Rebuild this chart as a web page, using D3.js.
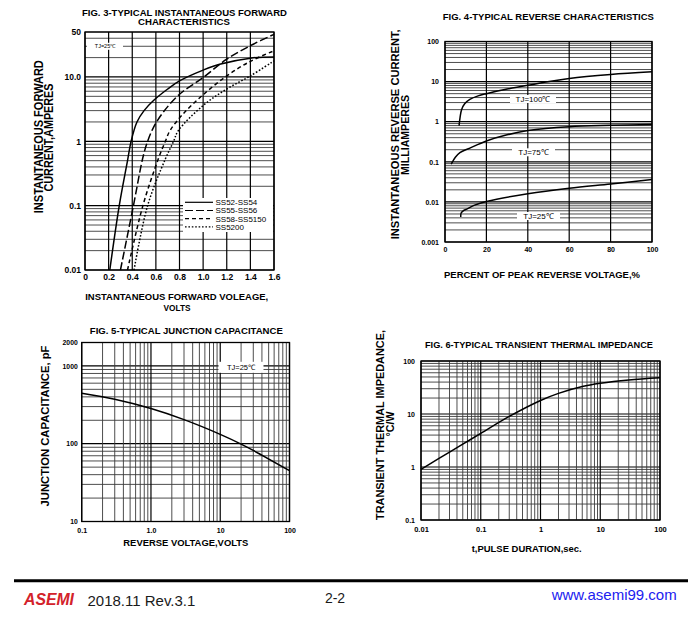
<!DOCTYPE html>
<html>
<head>
<meta charset="utf-8">
<script src="https://cdn.jsdelivr.net/npm/d3@7"></script>
<style>
  body { margin: 0; background: #fff; }
  svg { display: block; }
  text { font-family: "Liberation Sans", Arial, sans-serif; fill: #000; }
</style>
</head>
<body>
<svg id="chart" width="700" height="618"></svg>
<script>
// ---- FIG. 3 forward characteristics [volts, amperes]
const ss52_54 = [[0.21,0.01],[0.29,0.1],[0.36,0.5],[0.39,1],[0.44,2],[0.50,3],[0.58,4.3],[0.70,6.5],[0.80,8.7],[1.0,12.8],[1.14,15.8],[1.4,19.6],[1.6,20.5]];
const ss55_56 = [[0.30,0.01],[0.41,0.1],[0.49,0.56],[0.53,1],[0.58,1.65],[0.66,2.8],[0.80,5.4],[1.0,9.8],[1.2,18.9],[1.42,32],[1.6,46]];
const ss58_5150 = [[0.36,0.01],[0.49,0.1],[0.62,0.53],[0.68,1],[0.72,1.47],[0.83,2.66],[1.0,5.3],[1.2,10.4],[1.4,17.5],[1.6,25.5]];
const ss5200 = [[0.415,0.01],[0.53,0.1],[0.68,0.53],[0.75,1],[0.79,1.47],[1.0,3.6],[1.2,6.5],[1.4,10.4],[1.6,17.8]];
const fig3Names = ["SS52-SS54", "SS55-SS56", "SS58-SS5150", "SS5200"];
const fig3XTicks = [0, 0.2, 0.4, 0.6, 0.8, 1.0, 1.2, 1.4, 1.6];
const fig3YTicks = [0.01, 0.1, 1, 10, 50];
const fig3YLabels = ["0.01", "0.1", "1", "10.0", "50"];

// ---- FIG. 4 reverse characteristics [% of peak voltage, mA]
const tj100 = [[6.8,0.8],[7.3,1.3],[8,2.0],[9.5,2.8],[12,3.6],[16,4.4],[20,5.0],[30,6.5],[40,8.1],[60,11.9],[80,15],[100,17.5]];
const tj75 = [[3,0.088],[5,0.13],[7.2,0.17],[12,0.22],[20,0.33],[30,0.47],[40,0.6],[60,0.75],[80,0.81],[100,0.85]];
const tj25 = [[7.6,0.0042],[7.8,0.0053],[8.8,0.006],[10.5,0.0066],[14,0.0082],[20,0.0102],[40,0.016],[60,0.022],[80,0.028],[100,0.036]];
const fig4XTicks = [0, 20, 40, 60, 80, 100];
const fig4YTicks = [0.001, 0.01, 0.1, 1, 10, 100];
const fig4YLabels = ["0.001", "0.01", "0.1", "1", "10", "100"];

// ---- FIG. 5 junction capacitance [volts, pF]
const capacitance = [[0.1,444],[0.3,372],[1,283],[3,204],[10,132],[20,99],[30,82],[100,45]];
const fig5XTicks = [0.1, 1, 10, 100];
const fig5XLabels = ["0.1", "1.0", "10", "100"];
const fig5YTicks = [10, 100, 1000, 2000];

// ---- FIG. 6 transient thermal impedance [sec, °C/W]
const impedance = [[0.01,0.9],[0.02,1.45],[0.05,2.7],[0.1,4.3],[0.3,9.0],[1,18],[2,24.5],[5,33],[10,38],[30,44],[100,48.5]];
const fig6XTicks = [0.01, 0.1, 1, 10, 100];
const fig6XLabels = ["0.01", "0.1", "1", "10", "100"];
const fig6YTicks = [0.1, 1, 10, 100];
const fig6YLabels = ["0.1", "1", "10", "100"];

const svg = d3.select("#chart");

// minor log grid values 1..9 per decade inside [lo, hi]
function logGrid(lo, hi) {
  const out = [];
  for (let e = Math.floor(Math.log10(lo)); e <= Math.ceil(Math.log10(hi)); e++) {
    for (let m = 1; m <= 9; m++) {
      const v = m * Math.pow(10, e);
      if (v >= lo * 0.999 && v <= hi * 1.001) out.push(v);
    }
  }
  return out;
}
const isDecade = v => Math.abs(Math.log10(v) - Math.round(Math.log10(v))) < 1e-6;

function grid(g, x, y, xs, ys, xMajor, yMajor) {
  const [x0, x1] = x.range(), [y0, y1] = y.range();
  g.append("g").selectAll("line").data(ys).join("line")
    .attr("x1", x0).attr("x2", x1)
    .attr("y1", d => y(d)).attr("y2", d => y(d))
    .attr("stroke", d => yMajor(d) ? "#000" : "#3a3a3a")
    .attr("stroke-width", d => yMajor(d) ? 1.2 : 0.9);
  g.append("g").selectAll("line").data(xs).join("line")
    .attr("y1", y0).attr("y2", y1)
    .attr("x1", d => x(d)).attr("x2", d => x(d))
    .attr("stroke", d => xMajor(d) ? "#000" : "#3a3a3a")
    .attr("stroke-width", d => xMajor(d) ? 1.2 : 0.9);
  g.append("rect")
    .attr("x", x0).attr("y", y1).attr("width", x1 - x0).attr("height", y0 - y1)
    .attr("fill", "none").attr("stroke", "#000").attr("stroke-width", 1.3);
}

function axes(g, x, y, o) {
  const ya = g.append("g").attr("transform", `translate(${x.range()[0]},0)`)
    .call(d3.axisLeft(y).tickValues(o.yTicks).tickFormat((d, i) => o.yLabels[i]).tickSize(0).tickPadding(o.yPad));
  const xa = g.append("g").attr("transform", `translate(0,${y.range()[0]})`)
    .call(d3.axisBottom(x).tickValues(o.xTicks).tickFormat((d, i) => o.xLabels[i]).tickSize(0).tickPadding(o.xPad));
  [ya, xa].forEach(a => {
    a.select(".domain").remove();
    a.selectAll("text").attr("font-family", "Liberation Sans, Arial, sans-serif")
      .attr("font-weight", "bold").attr("fill", "#000");
  });
  ya.selectAll("text").attr("font-size", o.ySize);
  xa.selectAll("text").attr("font-size", o.xSize);
}

function label(x, y, str, size, len, rot, weight) {
  const t = svg.append("text")
    .attr("transform", `translate(${x},${y})` + (rot ? " rotate(-90)" : ""))
    .attr("text-anchor", "middle")
    .attr("font-size", size)
    .attr("font-weight", weight || "bold")
    .text(str);
  if (len) t.attr("textLength", len).attr("lengthAdjust", "spacingAndGlyphs");
  return t;
}

function tag(g, x0, x1, cy, h, str, size) {
  g.append("rect").attr("x", x0).attr("y", cy - h / 2).attr("width", x1 - x0).attr("height", h).attr("fill", "#fff");
  g.append("text").attr("x", (x0 + x1) / 2).attr("y", cy).attr("dy", "0.35em")
    .attr("text-anchor", "middle").attr("font-size", size).text(str);
}

function curve(g, x, y, data, dash) {
  g.append("path").datum(data)
    .attr("d", d3.line().x(d => x(d[0])).y(d => y(d[1])).curve(d3.curveCatmullRom.alpha(0.5)))
    .attr("fill", "none").attr("stroke", "#000").attr("stroke-width", 1.5)
    .attr("stroke-dasharray", dash || null);
}

// ================= FIG. 3
{
  const x = d3.scaleLinear().domain([0, 1.6]).range([85, 274]);
  const y = d3.scaleLog().domain([0.01, 50]).range([270, 32]);
  const g = svg.append("g");
  grid(g, x, y, fig3XTicks, logGrid(0.01, 50), () => true, isDecade);
  tag(g, 87, 123, y(30), 7, "TJ=25℃", 5.5);
  const dashes = [null, "8,3", "4,3", "1.6,1.8"];
  [ss52_54, ss55_56, ss58_5150, ss5200].forEach((s, i) => curve(g, x, y, s, dashes[i]));
  // legend
  g.append("rect").attr("x", 183).attr("y", 198).attr("width", 90).attr("height", 34).attr("fill", "#fff");
  fig3Names.forEach((n, i) => {
    const ly = 202.3 + i * 8.2;
    g.append("line").attr("x1", 185).attr("x2", 213).attr("y1", ly).attr("y2", ly)
      .attr("stroke", "#000").attr("stroke-width", 1.2).attr("stroke-dasharray", dashes[i]);
    g.append("text").attr("x", 215.5).attr("y", ly).attr("dy", "0.36em").attr("font-size", 8).text(n);
  });
  axes(g, x, y, { xTicks: fig3XTicks, xLabels: fig3XTicks.map(d => d === 0 ? "0" : d.toFixed(1)),
    yTicks: fig3YTicks, yLabels: fig3YLabels, xPad: 4, yPad: 4, xSize: 8.5, ySize: 8.5 });
  label(184.5, 16, "FIG. 3-TYPICAL INSTANTANEOUS FORWARD", 9, 205);
  label(184, 25, "CHARACTERISTICS", 9, 92);
  label(42.7, 136.7, "INSTANTANEOUS FORWARD", 12, 153, true);
  label(52.7, 137.5, "CURRENT,AMPERES", 12, 108, true);
  label(176.7, 300, "INSTANTANEOUS FORWARD VOLEAGE,", 9.5, 183);
  label(177, 311, "VOLTS", 9.5, 27);
}

// ================= FIG. 4
{
  const x = d3.scaleLinear().domain([0, 100]).range([445, 652]);
  const y = d3.scaleLog().domain([0.001, 100]).range([242, 41.5]);
  const g = svg.append("g");
  grid(g, x, y, fig4XTicks, logGrid(0.001, 100), () => true, isDecade);
  tag(g, 510, 556, 99, 8, "TJ=100℃", 8);
  tag(g, 512, 555, 152.3, 8, "TJ=75℃", 8);
  tag(g, 517, 560, 216, 8, "TJ=25℃", 8);
  [tj100, tj75, tj25].forEach(s => curve(g, x, y, s));
  axes(g, x, y, { xTicks: fig4XTicks, xLabels: fig4XTicks.map(String),
    yTicks: fig4YTicks, yLabels: fig4YLabels, xPad: 5, yPad: 6, xSize: 7, ySize: 7 });
  label(548.3, 20, "FIG. 4-TYPICAL REVERSE CHARACTERISTICS", 9, 211);
  label(399, 134.3, "INSTANTANEOUS REVERSE CURRENT,", 11.5, 210, true);
  label(409.3, 135, "MILLIAMPERES", 11.5, 80, true);
  label(542, 278, "PERCENT OF PEAK REVERSE VOLTAGE,%", 9.5, 196);
}

// ================= FIG. 5
{
  const x = d3.scaleLog().domain([0.1, 100]).range([81.7, 289.5]);
  const y = d3.scaleLog().domain([10, 2000]).range([521.5, 342.5]);
  const g = svg.append("g");
  grid(g, x, y, logGrid(0.1, 100), logGrid(10, 2000), isDecade, isDecade);
  tag(g, 218.5, 263.5, 367.3, 11, "TJ=25℃", 7.5);
  curve(g, x, y, capacitance);
  axes(g, x, y, { xTicks: fig5XTicks, xLabels: fig5XLabels,
    yTicks: fig5YTicks, yLabels: fig5YTicks.map(String), xPad: 7, yPad: 4, xSize: 7, ySize: 6.8 });
  label(186.3, 333.5, "FIG. 5-TYPICAL JUNCTION CAPACITANCE", 8.8, 193);
  label(49.3, 426, "JUNCTION CAPACITANCE, pF", 11.5, 161, true);
  label(185.8, 546, "REVERSE VOLTAGE,VOLTS", 9.5, 125);
}

// ================= FIG. 6
{
  const x = d3.scaleLog().domain([0.01, 100]).range([421, 660]);
  const y = d3.scaleLog().domain([0.1, 100]).range([520, 361]);
  const g = svg.append("g");
  grid(g, x, y, logGrid(0.01, 100), logGrid(0.1, 100), isDecade, isDecade);
  curve(g, x, y, impedance);
  axes(g, x, y, { xTicks: fig6XTicks, xLabels: fig6XLabels,
    yTicks: fig6YTicks, yLabels: fig6YLabels, xPad: 7, yPad: 6, xSize: 7.5, ySize: 7 });
  label(539, 347.7, "FIG. 6-TYPICAL TRANSIENT THERMAL IMPEDANCE", 8.8, 228);
  label(384, 425, "TRANSIENT THERMAL IMPEDANCE,", 11.5, 190, true);
  label(394, 424, "°C/W", 11.5, 25, true);
  label(526.7, 552, "t,PULSE DURATION,sec.", 9.5, 110);
}

// ================= footer
svg.append("line").attr("x1", 14).attr("x2", 688).attr("y1", 580.7).attr("y2", 580.7)
  .attr("stroke", "#000").attr("stroke-width", 3);
svg.append("text").attr("x", 49).attr("y", 604.7).attr("text-anchor", "middle")
  .attr("font-size", 16).attr("font-weight", "bold").attr("font-style", "italic")
  .attr("textLength", 50).attr("lengthAdjust", "spacingAndGlyphs")
  .style("fill", "#d3222a").text("ASEMI");
svg.append("text").attr("x", 87.5).attr("y", 606).attr("font-size", 15).style("fill", "#1a1a1a").text("2018.11 Rev.3.1");
svg.append("text").attr("x", 335).attr("y", 602.7).attr("text-anchor", "middle").attr("font-size", 14).style("fill", "#1a1a1a").text("2-2");
svg.append("text").attr("x", 676.7).attr("y", 599.5).attr("text-anchor", "end").attr("font-size", 15).style("fill", "#2020f0").text("www.asemi99.com");
</script>
</body>
</html>
